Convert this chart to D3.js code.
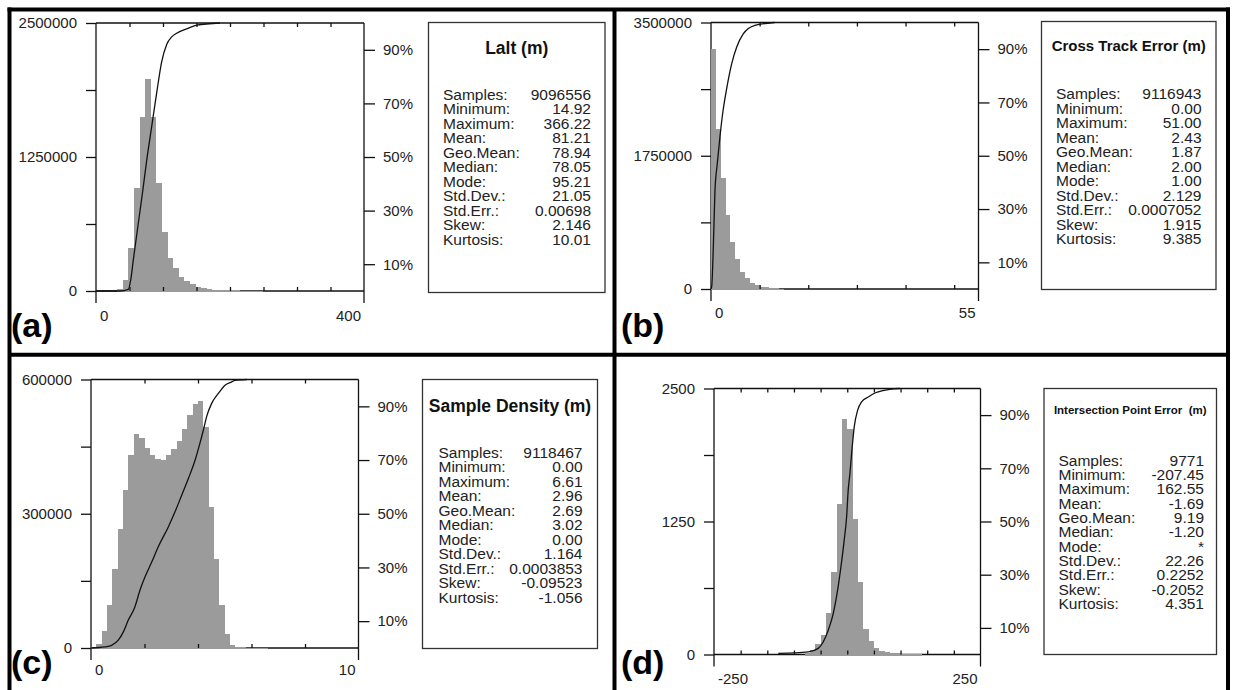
<!DOCTYPE html>
<html>
<head>
<meta charset="utf-8">
<script src="https://cdn.jsdelivr.net/npm/d3@7"></script>
<style>
body { margin: 0; background: #fff; }
svg { display: block; font-family: "Liberation Sans", Arial, sans-serif; }
</style>
</head>
<body>
<script>
'use strict';

var FONT = '"Liberation Sans", Arial, sans-serif';

// rows of the statistics boxes (same in all four panels)
var statNames = ['Samples:', 'Minimum:', 'Maximum:', 'Mean:', 'Geo.Mean:', 'Median:', 'Mode:', 'Std.Dev.:', 'Std.Err.:', 'Skew:', 'Kurtosis:'];
var pctTicks = [10, 30, 50, 70, 90];

// (a) Lalt
var laltTitle = 'Lalt (m)';
var laltStats = ['9096556', '14.92', '366.22', '81.21', '78.94', '78.05', '95.21', '21.05', '0.00698', '2.146', '10.01'];
var laltXDomain = [0, 400];
var laltXTicks = [50, 100, 150, 200, 250, 300, 350];
var laltYTicks = [0, 625000, 1250000, 1875000, 2500000];
var laltYLabels = [0, 1250000, 2500000];
var laltBinStart = 14.92, laltBinWidth = 8.364;
var laltCounts = [0, 0, 15000, 100000, 398000, 958000, 1620000, 1978000, 1620000, 1004000, 553000, 305000, 212000, 134000,
  93000, 65000, 40000, 25000, 18000, 13000, 10000, 8000, 6000, 5000, 4000, 3500, 3000, 2500];
var laltCdfX = [0, 35.8, 48.2, 51.8, 55.7, 62.2, 69.1, 75.7, 83.1, 90.6, 98, 105.5, 113, 120.4, 135, 150.3, 185];
var laltCdfPct = [0, 0, 0.6, 4.1, 11.6, 23.6, 36.1, 48.8, 61.3, 74, 85.5, 92, 94.8, 96.2, 97.8, 99.2, 100];

// (b) Cross Track Error
var xteTitle = 'Cross Track Error (m)';
var xteStats = ['9116943', '0.00', '51.00', '2.43', '1.87', '2.00', '1.00', '2.129', '0.0007052', '1.915', '9.385'];
var xteXDomain = [0, 55];
var xteXTicks = [10, 20, 30, 40, 50];
var xteYTicks = [0, 875000, 1750000, 2625000, 3500000];
var xteYLabels = [0, 1750000, 3500000];
var xteBinStart = 0, xteBinWidth = 1;
var xteCounts = [3150000, 2100000, 1455000, 970000, 620000, 389000, 227000, 140000, 83000, 52000, 30000, 20000, 13000, 9000, 6000];
var xteCdfX = [0, 0.14, 0.62, 0.82, 1.29, 1.85, 2.46, 3.23, 4.25, 5.27, 6.63, 9.03, 13.1];
var xteCdfPct = [0, 0.9, 24.6, 37.1, 47, 57.3, 66.7, 75.3, 84.5, 90.7, 95.7, 98.9, 100];

// (c) Sample Density
var densTitle = 'Sample Density (m)';
var densStats = ['9118467', '0.00', '6.61', '2.96', '2.69', '3.02', '0.00', '1.164', '0.0003853', '-0.09523', '-1.056'];
var densXDomain = [0, 10];
var densXTicks = [2, 4, 6, 8];
var densYTicks = [0, 150000, 300000, 450000, 600000];
var densYLabels = [0, 300000, 600000];
var densBinStart = 0, densBinWidth = 0.2;
var densCounts = [2000, 10000, 39000, 97000, 177000, 265000, 353000, 432000, 479000, 470000, 447000, 432000, 422000, 420000,
  432000, 445000, 463000, 489000, 520000, 546000, 551000, 493000, 314000, 198000, 97000, 32000, 6000, 3000, 1500, 1000, 800, 600, 400];
var densCdfX = [0, 0.52, 0.77, 1.02, 1.21, 1.39, 1.64, 1.83, 2.02, 2.27, 2.51, 2.89, 3.14, 3.39, 3.64, 3.89, 4.07, 4.2, 4.32, 4.51, 4.76, 5.01, 5.26, 5.38, 5.83];
var densCdfPct = [0, 0.4, 1.0, 2.9, 6.0, 10.3, 15.3, 21.5, 26.5, 32.0, 37.6, 45.1, 50.7, 56.9, 63.1, 69.9, 76.2, 81.1, 86.1, 91.1, 94.8, 97.9, 99.1, 99.7, 100];

// (d) Intersection Point Error
var ipeTitle = 'Intersection Point Error  (m)';
var ipeStats = ['9771', '-207.45', '162.55', '-1.69', '9.19', '-1.20', '*', '22.26', '0.2252', '-0.2052', '4.351'];
var ipeXDomain = [-250, 250];
var ipeXTicks = [-200, -150, -100, -50, 0, 50, 100, 150, 200];
var ipeYTicks = [0, 625, 1250, 1875, 2500];
var ipeYLabels = [0, 1250, 2500];
var ipeBinStart = -80, ipeBinWidth = 10;
var ipeCounts = [15, 38, 103, 181, 392, 777, 1419, 2212, 2118, 1278, 683, 240, 125, 60, 35, 25, 15, 10, 8, 5, 4, 3];
var ipeCdfX = [-129.4, -73.2, -54.4, -45.1, -35.7, -26.3, -18.1, -11.9, -5.7, -1.2, 1.8, 5.0, 8.2, 13.1, 19.4, 27, 39.3, 51.9, 64.5, 80, 98.8];
var ipeCdfPct = [0.4, 1.0, 2.3, 4.7, 9.1, 15.4, 24.2, 32.9, 43, 51.7, 61.8, 68, 75.6, 85.6, 91.8, 95, 96.8, 98.3, 99.1, 99.7, 100];

var svg = d3.select('body').append('svg').attr('width', 1241).attr('height', 690);
svg.append('rect').attr('width', 1241).attr('height', 690).attr('fill', '#fff');

var drawPanel = function drawPanel(p) {
  var g = svg.append('g');
  var x = d3.scaleLinear().domain(p.xDomain).range([p.left, p.right]);
  var y = d3.scaleLinear().domain([0, p.yTicks[p.yTicks.length - 1]]).range([p.bottom, p.top]);
  var pct = d3.scaleLinear().domain([0, 100]).range([p.bottom, p.top]);
  var sw = 1.3;

  // frame
  g.append('line').attr('x1', p.left).attr('x2', p.right).attr('y1', p.top).attr('y2', p.top);
  g.append('line').attr('x1', p.left).attr('x2', p.right).attr('y1', p.bottom).attr('y2', p.bottom);
  g.append('line').attr('x1', p.left).attr('x2', p.left).attr('y1', p.top).attr('y2', p.bottom + 12);
  g.append('line').attr('x1', p.right).attr('x2', p.right).attr('y1', p.top).attr('y2', p.bottom + 12);
  g.selectAll('line').attr('stroke', '#111').attr('stroke-width', sw);

  // histogram bars
  g.append('g').attr('shape-rendering', 'crispEdges').selectAll('rect')
    .data(p.counts).enter().append('rect')
    .attr('x', function (d, i) { return x(p.binStart + i * p.binWidth); })
    .attr('width', function (d, i) { return x(p.binStart + (i + 1) * p.binWidth) - x(p.binStart + i * p.binWidth); })
    .attr('y', function (d) { return y(d); })
    .attr('height', function (d) { return d > 0 ? p.bottom - y(d) + 1 : 0; })
    .attr('fill', '#9b9b9b');

  // y axis
  var ya = g.append('g').attr('transform', 'translate(' + p.left + ',0)')
    .call(d3.axisLeft(y).tickValues(p.yTicks).tickSize(10).tickPadding(9)
      .tickFormat(function (d) { return p.yLabels.indexOf(d) >= 0 ? d : ''; }));
  // x axis inner ticks, bottom and top
  var xb = g.append('g').attr('transform', 'translate(0,' + p.bottom + ')')
    .call(d3.axisBottom(x).tickValues(p.xTicks).tickSize(-4).tickFormat(''));
  var xt = g.append('g').attr('transform', 'translate(0,' + p.top + ')')
    .call(d3.axisTop(x).tickValues(p.xTicks).tickSize(-4).tickFormat(''));
  // percent axis
  var ra = g.append('g').attr('transform', 'translate(' + p.right + ',0)')
    .call(d3.axisRight(pct).tickValues(pctTicks).tickSize(11).tickPadding(8)
      .tickFormat(function (d) { return d + '%'; }));
  [ya, xb, xt, ra].forEach(function (a) {
    a.select('.domain').remove();
    a.attr('font-size', 15).attr('font-family', FONT);
    a.selectAll('line').attr('stroke', '#111').attr('stroke-width', sw);
    a.selectAll('text').attr('fill', '#222');
  });

  // x end labels
  g.append('text').attr('x', x(p.xDomain[0]) + 4).attr('y', p.bottom + p.labelDy)
    .attr('font-size', 15).attr('fill', '#222').text(p.xDomain[0]);
  g.append('text').attr('x', x(p.xDomain[1]) - 3).attr('y', p.bottom + p.labelDy)
    .attr('text-anchor', 'end').attr('font-size', 15).attr('fill', '#222').text(p.xDomain[1]);

  // cumulative curve
  var pts = p.cdfX.map(function (v, i) { return [v, p.cdfPct[i]]; });
  g.append('path').datum(pts)
    .attr('fill', 'none').attr('stroke', '#111').attr('stroke-width', 1.3)
    .attr('d', d3.line().x(function (d) { return x(d[0]); }).y(function (d) { return pct(d[1]); }).curve(d3.curveMonotoneX));

  // stats box
  var b = p.box;
  g.append('rect').attr('x', b.x).attr('y', b.y).attr('width', b.w).attr('height', b.h)
    .attr('fill', '#fff').attr('stroke', '#333').attr('stroke-width', 1.3);
  g.append('text').attr('x', b.x + b.w / 2).attr('y', b.titleY).attr('text-anchor', 'middle')
    .attr('font-weight', 'bold').attr('font-size', b.titleSize).attr('fill', '#111')
    .style('white-space', 'pre').text(p.title);
  var rows = g.append('g').attr('font-size', 15.5).attr('fill', '#222');
  rows.selectAll('.lab').data(statNames).enter().append('text').attr('class', 'lab')
    .attr('x', b.labX).attr('y', function (d, i) { return b.rowY + i * b.rowH; }).text(function (d) { return d; });
  rows.selectAll('.val').data(p.stats).enter().append('text').attr('class', 'val')
    .attr('x', b.valX).attr('y', function (d, i) { return b.rowY + i * b.rowH; })
    .attr('text-anchor', 'end').text(function (d) { return d; });

  // panel letter
  g.append('text').attr('x', p.tagX).attr('y', p.tagY).attr('font-size', 34).attr('font-weight', 'bold')
    .attr('fill', '#000').text(p.tag);
};

drawPanel({
  tag: '(a)', tagX: 11, tagY: 337, title: laltTitle, stats: laltStats,
  xDomain: laltXDomain, xTicks: laltXTicks, yTicks: laltYTicks, yLabels: laltYLabels,
  binStart: laltBinStart, binWidth: laltBinWidth, counts: laltCounts, cdfX: laltCdfX, cdfPct: laltCdfPct,
  left: 96, right: 364, top: 23, bottom: 291, labelDy: 30,
  box: { x: 428.5, y: 22.5, w: 176.5, h: 270, titleY: 54, titleSize: 17.5, labX: 443, valX: 591, rowY: 99.5, rowH: 14.5 }
});

drawPanel({
  tag: '(b)', tagX: 621, tagY: 337, title: xteTitle, stats: xteStats,
  xDomain: xteXDomain, xTicks: xteXTicks, yTicks: xteYTicks, yLabels: xteYLabels,
  binStart: xteBinStart, binWidth: xteBinWidth, counts: xteCounts, cdfX: xteCdfX, cdfPct: xteCdfPct,
  left: 711, right: 978.5, top: 22.5, bottom: 289, labelDy: 29,
  box: { x: 1041.5, y: 21.5, w: 174.5, h: 268, titleY: 51, titleSize: 15, labX: 1056, valX: 1201.5, rowY: 99, rowH: 14.5 }
});

drawPanel({
  tag: '(c)', tagX: 11, tagY: 674, title: densTitle, stats: densStats,
  xDomain: densXDomain, xTicks: densXTicks, yTicks: densYTicks, yLabels: densYLabels,
  binStart: densBinStart, binWidth: densBinWidth, counts: densCounts, cdfX: densCdfX, cdfPct: densCdfPct,
  left: 91, right: 358.5, top: 379.5, bottom: 648, labelDy: 27,
  box: { x: 422.5, y: 379.5, w: 175, h: 269, titleY: 412, titleSize: 17.5, labX: 438.5, valX: 582.5, rowY: 458, rowH: 14.47 }
});

drawPanel({
  tag: '(d)', tagX: 621, tagY: 674, title: ipeTitle, stats: ipeStats,
  xDomain: ipeXDomain, xTicks: ipeXTicks, yTicks: ipeYTicks, yLabels: ipeYLabels,
  binStart: ipeBinStart, binWidth: ipeBinWidth, counts: ipeCounts, cdfX: ipeCdfX, cdfPct: ipeCdfPct,
  left: 714, right: 980.5, top: 388.5, bottom: 654.5, labelDy: 29,
  box: { x: 1044, y: 388.5, w: 172.5, h: 266, titleY: 414, titleSize: 11.5, labX: 1058.5, valX: 1204, rowY: 465.5, rowH: 14.35 }
});

// panel separators and outer frame
var frame = svg.append('g').attr('stroke', '#000').attr('stroke-width', 4);
frame.append('line').attr('x1', 7.5).attr('x2', 1230).attr('y1', 9.5).attr('y2', 9.5);
frame.append('line').attr('x1', 9.5).attr('x2', 9.5).attr('y1', 7.5).attr('y2', 690);
frame.append('line').attr('x1', 1228).attr('x2', 1228).attr('y1', 7.5).attr('y2', 690);
frame.append('line').attr('x1', 9.5).attr('x2', 1228).attr('y1', 354.7).attr('y2', 354.7);
frame.append('line').attr('x1', 614.5).attr('x2', 614.5).attr('y1', 9.5).attr('y2', 690);
</script>
</body>
</html>
